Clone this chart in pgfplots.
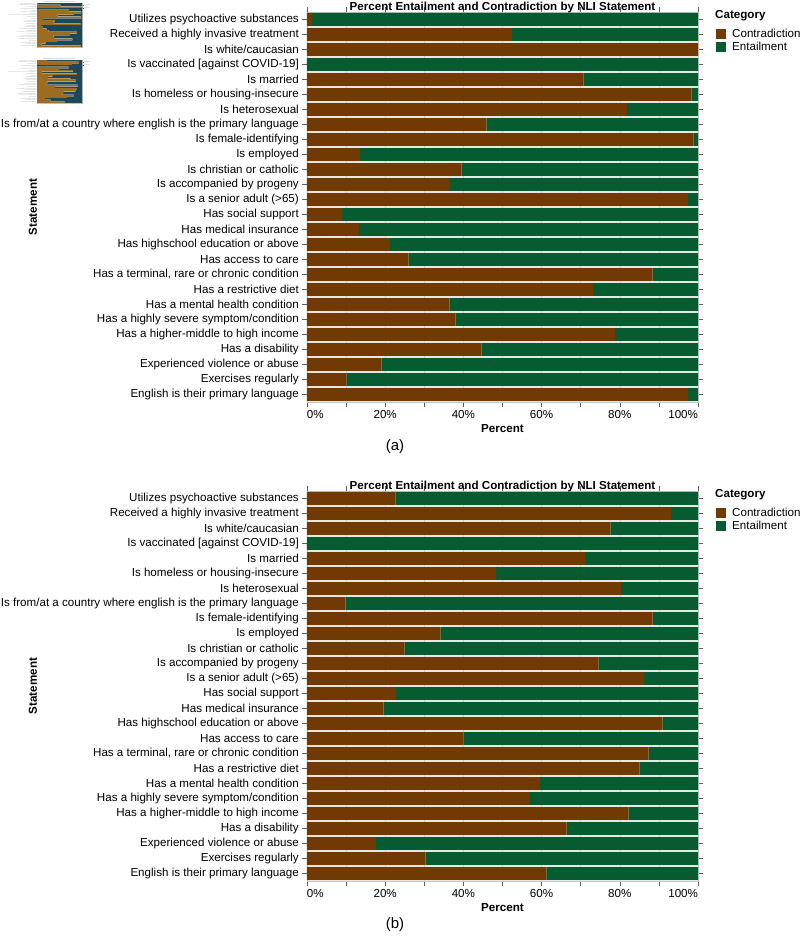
\documentclass[border=0pt]{standalone}
\usepackage{pgfplots}
\pgfplotsset{compat=1.18}
\usepackage{pgfplotstable}
\usepackage{fontspec}
\setmainfont{Liberation Sans}
\definecolor{cbrown}{RGB}{112,58,2}
\definecolor{cgreen}{RGB}{6,92,48}
\definecolor{mbrown}{RGB}{158,108,32}
\definecolor{mteal}{RGB}{28,72,88}

\pgfplotstableread{
idx con ent
0 1.3 98.7
1 52.4 47.6
2 100 0
3 0 100
4 70.7 29.3
5 98.4 1.6
6 81.8 18.2
7 45.9 54.1
8 98.8 1.2
9 13.5 86.5
10 39.5 60.5
11 36.6 63.4
12 97.4 2.6
13 9.0 91.0
14 13.3 86.7
15 21.2 78.8
16 26.0 74.0
17 88.4 11.6
18 73.1 26.9
19 36.4 63.6
20 38.0 62.0
21 78.8 21.2
22 44.6 55.4
23 19.0 81.0
24 10.1 89.9
25 97.5 2.5
}\dataA

\pgfplotstableread{
idx con ent
0 22.6 77.4
1 93.1 6.9
2 77.6 22.4
3 0 100
4 71.1 28.9
5 48.4 51.6
6 80.3 19.7
7 9.9 90.1
8 88.4 11.6
9 34.1 65.9
10 24.9 75.1
11 74.5 25.5
12 86.2 13.8
13 22.8 77.2
14 19.6 80.4
15 90.9 9.1
16 40.0 60.0
17 87.4 12.6
18 85.0 15.0
19 59.6 40.4
20 57.0 43.0
21 82.2 17.8
22 66.4 33.6
23 17.6 82.4
24 30.3 69.7
25 61.2 38.8
}\dataB

\newcommand{\lf}{\fontsize{11.6}{13}\selectfont}

\pgfplotsset{
  base/.style={
    scale only axis, xbar stacked, clip mode=individual,
    xmin=0, xmax=100, ymin=-0.5, ymax=25.5, y dir=reverse,
    ytick={0,...,25},
    yticklabels={{Utilizes psychoactive substances},
      {Received a highly invasive treatment},
      {Is white/caucasian},
      {Is vaccinated [against COVID-19]},
      {Is married},
      {Is homeless or housing-insecure},
      {Is heterosexual},
      {Is from/at a country where english is the primary language},
      {Is female-identifying},
      {Is employed},
      {Is christian or catholic},
      {Is accompanied by progeny},
      {Is a senior adult (>65)},
      {Has social support},
      {Has medical insurance},
      {Has highschool education or above},
      {Has access to care},
      {Has a terminal, rare or chronic condition},
      {Has a restrictive diet},
      {Has a mental health condition},
      {Has a highly severe symptom/condition},
      {Has a higher-middle to high income},
      {Has a disability},
      {Experienced violence or abuse},
      {Exercises regularly},
      {English is their primary language}},
    xtick={0,10,...,100},
  },
  nli/.style={
    base,
    width=391pt, height=390pt,
    bar width=13.2pt,
    xticklabels={\makebox[0pt][l]{0\%},,20\%,,40\%,,60\%,,80\%,,\makebox[0pt][r]{100\%}},
    tick align=outside, major tick length=5pt,
    tick style={gray!75!black, line width=0.6pt},
    axis line style={gray!45, line width=0.6pt},
    xmajorgrids, grid style={gray!22, line width=0.5pt},
    every tick label/.append style={font=\lf},
    yticklabel style={inner sep=0pt, xshift=-3pt},
    xticklabel style={inner sep=0pt, yshift=-3pt},
    title={\textbf{Percent Entailment and Contradiction by NLI Statement}},
    every axis title/.style={at={(0.5,1)}, anchor=base, yshift=2pt, font=\lf},
    xlabel={\textbf{Percent}},
    every axis x label/.style={at={(0.5,0)}, anchor=base, yshift=-30pt, font=\lf},
    ylabel={\textbf{Statement}},
    every axis y label/.style={at={(0,0.5)}, xshift=-274pt, rotate=90, anchor=center, font=\lf},
    legend cell align=left,
    legend image code/.code={\fill[#1] (0pt,-5pt) rectangle (10pt,5pt);},
    legend style={at={(1,1)}, anchor=north west, xshift=18pt, yshift=-17pt,
      draw=none, fill=none, inner sep=0pt, font=\lf, row sep=3.2pt,
      nodes={inner sep=0pt},
      /tikz/every odd column/.append style={column sep=6pt}},
  },
  mini/.style={
    base,
    bar width=1.45pt,
    xticklabels={0,,20,,40,,60,,80,,100},
    major tick length=0.6pt,
    tick style={gray, line width=0.2pt},
    axis line style={gray!50, line width=0.2pt},
    every tick label/.append style={font=\fontsize{1.1}{1.2}\selectfont, text=gray, inner sep=0.4pt},
    title={\textbf{Percent Entailment and Contradiction by NLI Statement}},
    every axis title/.style={at={(0.5,1)}, anchor=south, inner sep=0.3pt, font=\fontsize{1.2}{1.3}\selectfont, text=gray},
    legend cell align=left,
    legend image code/.code={\fill[#1] (0pt,-0.5pt) rectangle (1pt,0.5pt);},
    legend style={at={(1,1)}, anchor=north west, xshift=1pt, yshift=-1.5pt,
      draw=none, fill=none, inner sep=0pt, font=\fontsize{1.1}{1.2}\selectfont, row sep=0.3pt,
      nodes={inner sep=0pt, text=gray},
      /tikz/every odd column/.append style={column sep=0.5pt}},
  },
}

\begin{document}
\begin{tikzpicture}
\useasboundingbox (0pt,0pt) rectangle (800pt,-938pt);

% thumbnails
\begin{axis}[mini, width=45pt, height=44pt, at={(37pt,-3pt)}, anchor=north west]
  \addplot[fill=mbrown, draw=none] table[x=con,y=idx]{\dataA};
  \addplot[fill=mteal, draw=none] table[x=ent,y=idx]{\dataA};
  \legend{Contradiction,Entailment}
\end{axis}
\begin{axis}[mini, width=45pt, height=43pt, at={(37pt,-60pt)}, anchor=north west]
  \addplot[fill=mbrown, draw=none] table[x=con,y=idx]{\dataB};
  \addplot[fill=mteal, draw=none] table[x=ent,y=idx]{\dataB};
  \legend{Contradiction,Entailment}
\end{axis}

% panel (a)
\begin{axis}[nli, at={(307pt,-12pt)}, anchor=north west]
  \addplot[fill=cbrown, draw=none] table[x=con,y=idx]{\dataA};
  \addplot[fill=cgreen, draw=none] table[x=ent,y=idx]{\dataA};
  \legend{Contradiction,Entailment}
  \node[anchor=west, font=\lf, inner sep=0pt, xshift=17pt, yshift=-4pt] at (axis description cs:1,1) {\textbf{Category}};
\end{axis}
\node[font=\fontsize{15}{17}\selectfont] at (395pt,-447pt) {(a)};

% panel (b)
\begin{axis}[nli, at={(307pt,-491pt)}, anchor=north west]
  \addplot[fill=cbrown, draw=none] table[x=con,y=idx]{\dataB};
  \addplot[fill=cgreen, draw=none] table[x=ent,y=idx]{\dataB};
  \legend{Contradiction,Entailment}
  \node[anchor=west, font=\lf, inner sep=0pt, xshift=17pt, yshift=-4pt] at (axis description cs:1,1) {\textbf{Category}};
\end{axis}
\node[font=\fontsize{15}{17}\selectfont] at (395pt,-925pt) {(b)};
\end{tikzpicture}
\end{document}
